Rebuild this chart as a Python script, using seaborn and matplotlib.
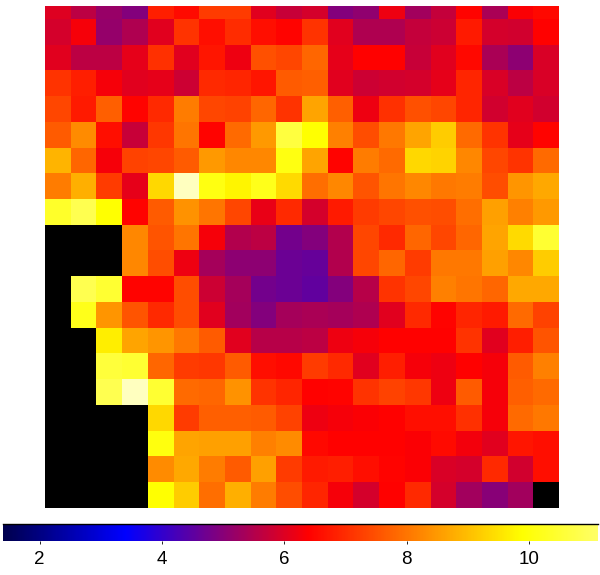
import numpy as np
import seaborn as sns
import matplotlib.pyplot as plt
from matplotlib.colors import LinearSegmentedColormap

plt.rcParams['font.family'] = ['Liberation Sans', 'DejaVu Sans']

nan = np.nan

# map values, top row first (black cells are missing)
row_00 = [6.0, 5.6, 5.2, 4.95, 6.8, 6.55, 7.2, 7.2, 6.05, 5.75, 5.9, 4.95, 5.1, 6.2, 5.3, 5.7, 6.45, 5.4, 6.35, 6.5]
row_01 = [5.9, 6.3, 5.15, 5.45, 6.05, 7.1, 6.6, 7.0, 6.6, 6.45, 7.1, 6.05, 5.45, 5.45, 5.7, 5.8, 6.75, 5.9, 5.85, 6.4]
row_02 = [6.05, 5.6, 5.6, 6.1, 7.05, 6.05, 6.7, 6.2, 7.5, 7.35, 7.8, 6.1, 6.4, 6.4, 5.75, 6.05, 6.5, 5.4, 5.05, 5.95]
row_03 = [7.1, 6.8, 6.3, 6.05, 6.1, 5.8, 6.95, 6.9, 6.7, 7.65, 7.7, 6.05, 5.8, 5.85, 5.9, 6.1, 6.9, 5.95, 5.6, 5.95]
row_04 = [7.35, 6.75, 7.7, 6.45, 6.95, 8.1, 7.35, 7.3, 7.8, 7.1, 8.65, 7.7, 6.2, 7.05, 7.5, 7.35, 6.9, 5.85, 6.05, 5.85]
row_05 = [7.65, 8.3, 6.6, 5.75, 7.15, 8.0, 6.45, 7.85, 8.5, 10.65, 9.9, 8.15, 7.45, 8.05, 8.65, 9.2, 7.85, 7.1, 6.1, 6.45]
row_06 = [8.85, 7.8, 6.3, 7.3, 7.35, 7.65, 8.5, 8.25, 8.25, 10.1, 8.65, 6.45, 8.1, 7.85, 9.35, 9.3, 8.25, 7.35, 7.1, 7.85]
row_07 = [8.1, 8.8, 7.2, 6.1, 9.35, 11.5, 10.1, 9.75, 10.2, 9.4, 7.9, 8.25, 7.55, 8.0, 8.25, 8.05, 8.1, 7.45, 8.45, 8.7]
row_08 = [10.4, 10.85, 9.9, 6.45, 7.65, 8.4, 8.0, 7.35, 6.15, 6.95, 5.9, 6.75, 7.2, 7.35, 7.5, 7.45, 7.9, 8.6, 8.15, 8.5]
row_09 = [nan, nan, nan, 8.25, 7.55, 8.0, 6.3, 5.5, 5.6, 4.75, 4.95, 5.5, 7.35, 6.95, 7.8, 7.35, 7.8, 8.65, 9.4, 10.5]
row_10 = [nan, nan, nan, 8.25, 7.45, 6.2, 5.35, 5.05, 5.05, 4.65, 4.6, 5.5, 7.35, 7.8, 7.2, 8.05, 8.05, 8.6, 8.25, 9.2]
row_11 = [nan, 10.85, 10.5, 6.45, 6.45, 7.45, 5.8, 5.35, 4.75, 4.65, 4.55, 4.95, 5.55, 7.1, 7.35, 8.15, 8.0, 7.8, 8.7, 8.7]
row_12 = [nan, 10.2, 8.45, 7.55, 6.95, 7.45, 6.05, 5.3, 4.95, 5.35, 5.4, 5.35, 5.45, 6.05, 6.95, 6.45, 6.9, 6.75, 7.85, 7.3]
row_13 = [nan, nan, 9.65, 8.65, 8.45, 8.05, 7.65, 6.05, 5.55, 5.55, 5.6, 6.2, 6.3, 6.4, 6.4, 6.4, 7.1, 6.05, 6.8, 7.55]
row_14 = [nan, nan, 10.6, 10.5, 7.8, 7.2, 7.15, 7.65, 6.6, 6.5, 7.2, 6.95, 6.05, 6.8, 6.3, 6.2, 6.4, 6.3, 7.65, 8.15]
row_15 = [nan, nan, 10.85, 11.5, 10.5, 7.85, 7.8, 8.4, 7.1, 6.9, 6.4, 6.45, 7.1, 7.3, 7.15, 6.2, 7.65, 6.3, 7.7, 7.85]
row_16 = [nan, nan, nan, nan, 9.35, 7.2, 7.7, 7.7, 7.65, 7.3, 6.2, 6.3, 6.35, 6.4, 6.6, 6.6, 7.05, 6.3, 7.85, 8.05]
row_17 = [nan, nan, nan, nan, 10.05, 8.65, 8.6, 8.6, 8.15, 8.3, 6.5, 6.4, 6.4, 6.4, 6.35, 6.55, 6.25, 6.05, 6.7, 6.6]
row_18 = [nan, nan, nan, nan, 8.3, 8.7, 8.1, 7.65, 8.6, 7.2, 6.75, 6.8, 6.6, 6.45, 6.35, 5.95, 5.9, 6.95, 5.85, 6.6]
row_19 = [nan, nan, nan, nan, 9.9, 9.2, 7.9, 8.8, 8.1, 7.45, 6.9, 6.3, 5.9, 6.4, 6.95, 5.9, 5.3, 5.0, 5.3, nan]

bar_ticks = [2, 4, 6, 8, 10]
vmin = 1.4
vmax = 11.13

values = np.array([row_00, row_01, row_02, row_03, row_04, row_05, row_06, row_07, row_08, row_09,
                   row_10, row_11, row_12, row_13, row_14, row_15, row_16, row_17, row_18, row_19])

# navy -> blue -> red -> yellow -> pale yellow
def frac(v):
    return (v - vmin) / (vmax - vmin)

cmap = LinearSegmentedColormap.from_list('idl_like', [
    (0.0, (0, 0, 0.3)),
    (frac(3.4), (0, 0, 1)),
    (frac(6.4), (1, 0, 0)),
    (frac(9.9), (1, 1, 0)),
    (1.0, (1, 1, 0.4)),
], N=512)
# a couple of cells run past the top of the bar and come out almost white
cmap.set_over((1, 1, 0.75))

fig = plt.figure(figsize=(6, 5.75), dpi=100)
ax = fig.add_axes([45 / 600, (575 - 507.7) / 575, 514 / 600, 501.7 / 575])
cax = fig.add_axes([3 / 600, (575 - 541) / 575, 595 / 600, 17 / 575])

ax.set_facecolor('black')
sns.heatmap(values, ax=ax, cbar_ax=cax, cmap=cmap, vmin=vmin, vmax=vmax,
            xticklabels=False, yticklabels=False,
            cbar_kws={'orientation': 'horizontal', 'ticks': bar_ticks, 'extend': 'neither'})

# the top row is cut in half in the original
ax.set_ylim(20, 0.5)
ax.tick_params(length=0)

cbar = ax.collections[0].colorbar
cbar.outline.set_visible(False)
cax.plot([0, 1], [1, 1], transform=cax.transAxes, color='black', lw=1.0, clip_on=False)
cax.tick_params(axis='x', length=2.5, width=0.6, labelsize=13.5, pad=4.5, colors='black')

fig.savefig('out.png', dpi=100)
